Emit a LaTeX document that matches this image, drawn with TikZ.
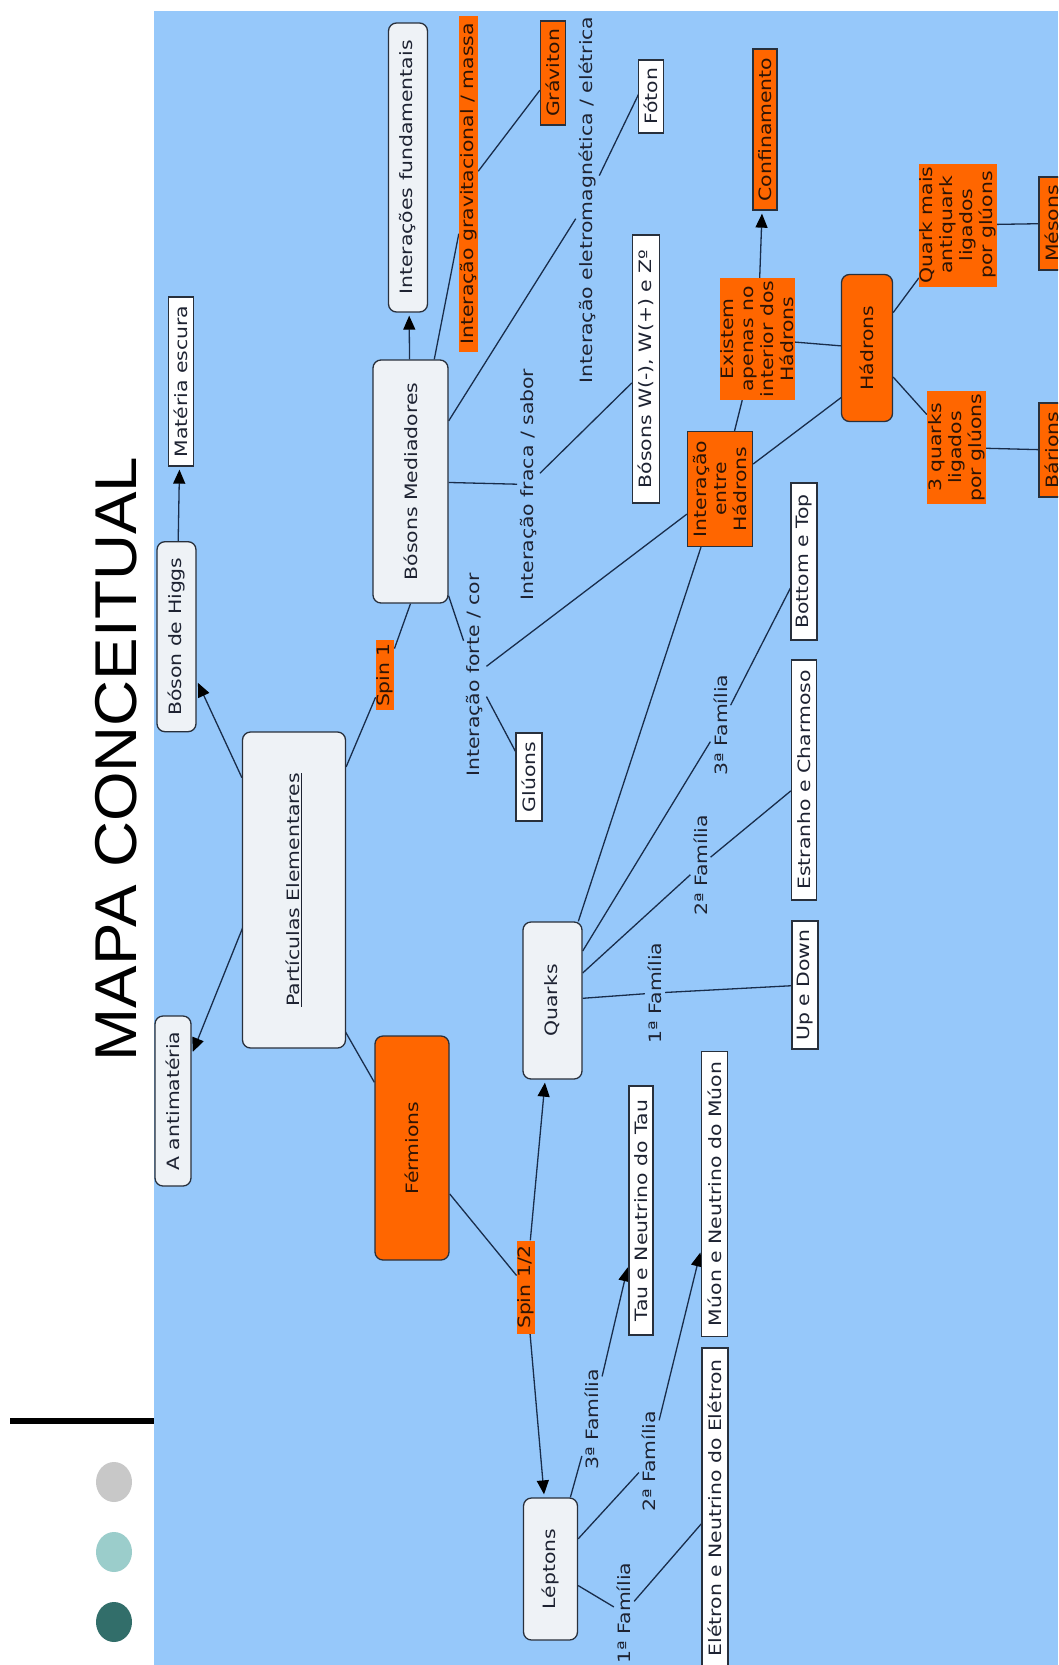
\documentclass[tikz,border=0pt]{standalone}
\usepackage{fontspec}
\newfontfamily\nf[FakeStretch=1.2]{DejaVu Sans}
\newfontfamily\tf[FakeStretch=1.08]{Liberation Sans}
\usetikzlibrary{arrows.meta,calc}
\definecolor{bgblue}{RGB}{150,200,250}
\definecolor{orng}{RGB}{255,102,0}
\definecolor{lightf}{RGB}{238,242,246}
\definecolor{bord}{RGB}{40,48,60}
\definecolor{lin}{RGB}{25,45,75}
\definecolor{txt}{RGB}{30,35,50}
\definecolor{otxt}{RGB}{45,20,5}
\definecolor{cgray}{RGB}{200,200,200}
\definecolor{cteal}{RGB}{155,205,203}
\definecolor{cdark}{RGB}{50,110,106}
\pgfdeclarelayer{backdrop}
\pgfdeclarelayer{lines}
\pgfsetlayers{backdrop,lines,main}
\tikzset{
  base/.style={rotate=90, font=\nf\fontsize{17}{20}\selectfont, text=txt, inner sep=0pt, align=center},
  sz/.style 2 args={minimum width=#1pt, minimum height=#2pt},
  rbox/.style={base, draw=bord, line width=1.3pt, rounded corners=8pt, fill=lightf},
  obox/.style={base, draw=bord, line width=1.3pt, rounded corners=8pt, fill=orng, text=otxt},
  wbox/.style={base, draw=bord, line width=1.3pt, fill=white},
  osq/.style={base, draw=bord, line width=1.3pt, fill=orng, text=otxt},
  onb/.style={base, fill=orng, text=otxt},
  olab/.style={base, fill=orng, text=otxt, inner sep=1pt},
  plab/.style={base, inner sep=3pt},
  conn/.style={draw=lin, line width=1.3pt},
  arr/.style={conn, -{Triangle[length=14pt,width=12pt,color=black]}, shorten >=3pt},
}
\begin{document}
\begin{tikzpicture}[x=1pt,y=-1pt]
\useasboundingbox (0,0) rectangle (1058,1665);
\clip (0,0) rectangle (1058,1665);
\begin{pgfonlayer}{backdrop}
\fill[white] (0,0) rectangle (1058,1665);
\fill[bgblue] (154,10.5) rectangle (1058,1665);
\draw[line width=6.5pt] (10,1421) -- (154,1421);
\fill[cgray] (114,1482) ellipse (18pt and 20pt);
\fill[cteal] (114,1552) ellipse (18pt and 20pt);
\fill[cdark] (114,1622) ellipse (18pt and 20pt);
\end{pgfonlayer}

\node[rotate=90, font=\tf\fontsize{59}{59}\selectfont, inner sep=0pt] (title) at (116,759) {MAPA CONCEITUAL};

% rounded light boxes
\node[rbox, sz={289}{39}] (interfund) at (408,167.5) {Interações fundamentais};
\node[rbox, sz={243}{75}] (bosmed) at (410.5,481.5) {Bósons Mediadores};
\node[rbox, sz={190}{39}] (higgs) at (176.5,636.7) {Bóson de Higgs};
\node[rbox, sz={316}{103}] (partic) at (294,890) {\underline{Partículas Elementares}};
\node[rbox, sz={170}{36}] (antimat) at (173,1101) {A antimatéria};
\node[rbox, sz={157}{59}] (quarks) at (552.5,1000.5) {Quarks};
\node[rbox, sz={142}{54}] (leptons) at (550.5,1569) {Léptons};

% orange rounded
\node[obox, sz={224}{74}] (fermions) at (412,1148) {Férmions};
\node[obox, sz={147}{51}] (hadrons) at (867,348) {Hádrons};

% white square boxes
\node[wbox, sz={169}{25}] (materia) at (181,381.5) {Matéria escura};
\node[wbox, sz={73}{25}] (foton) at (651,96.5) {Fóton};
\node[wbox, sz={268}{27}] (bosonsW) at (646,369) {Bósons W(-), W(+) e Zº};
\node[wbox, sz={88}{26}] (gluons) at (529,777) {Glúons};
\node[wbox, sz={157}{26}] (bottom) at (804,561.5) {Bottom e Top};
\node[wbox, sz={240}{25}] (estranho) at (804,780) {Estranho e Charmoso};
\node[wbox, sz={128}{26}] (updown) at (805,985) {Up e Down};
\node[wbox, sz={249}{24}] (tau) at (641,1210.5) {Tau e Neutrino do Tau};
\node[wbox, sz={285}{26}] (muon) at (714.7,1194) {Múon e Neutrino do Múon};
\node[wbox, sz={320}{26}] (eletron) at (715,1508) {Elétron e Neutrino do Elétron};

% orange square boxes
\node[osq, sz={104}{25}] (graviton) at (553,73) {Gráviton};
\node[osq, sz={161}{24}] (confin) at (765,129.5) {Confinamento};
\node[osq, sz={115}{65}] (interh) at (720,489) {Interação\\entre\\Hádrons};
\node[osq, sz={93}{26}] (mesons) at (1052,223.5) {Mésons};
\node[osq, sz={94}{26}] (barions) at (1052,450) {Bárions};

% orange without border
\node[onb, sz={122}{75}] (existem) at (757.5,339) {Existem\\apenas no\\interior dos\\Hádrons};
\node[onb, sz={123}{78}] (quarkmais) at (958,225) {Quark mais\\antiquark\\ligados\\por glúons};
\node[onb, sz={113}{59}] (tresq) at (956.5,447.5) {3 quarks\\ligados\\por glúons};

% highlighted linking phrases
\node[olab, sz={336}{19}] (gravlabel) at (468.5,184) {Interação gravitacional / massa};
\node[olab, sz={70}{18}] (spin1) at (385,675) {Spin 1};
\node[olab, sz={93}{18}] (spinhalf) at (526,1287) {Spin 1/2};

% plain linking phrases
\node[plab] (emlabel) at (587.5,200) {Interação eletromagnética / elétrica};
\node[plab] (fracalabel) at (528.5,484.5) {Interação fraca / sabor};
\node[plab] (fortelabel) at (475,675) {Interação forte / cor};
\node[plab] (qf1) at (655,993) {1ª Família};
\node[plab] (qf2) at (700.5,865.5) {2ª Família};
\node[plab] (qf3) at (720.5,725) {3ª Família};
\node[plab] (lf1) at (624,1613) {1ª Família};
\node[plab] (lf2) at (649,1461.5) {2ª Família};
\node[plab] (lf3) at (592,1419.5) {3ª Família};

\begin{pgfonlayer}{lines}
\draw[arr] (bosmed) -- (interfund);
\draw[arr] (higgs) -- (materia);
\draw[arr] (partic) -- (higgs);
\draw[arr] ($(partic.center)+(0,-90)$) -- (antimat);
\draw[conn] (bosmed) -- (gravlabel);
\draw[conn] (gravlabel) -- (graviton);
\draw[conn] (bosmed) -- (emlabel);
\draw[conn] (emlabel) -- ($(foton.center)+(0,-28)$);
\draw[conn] (bosmed) -- (fracalabel);
\draw[conn] (fracalabel) -- (bosonsW);
\draw[conn] (bosmed) -- (fortelabel);
\draw[conn] (fortelabel) -- (interh);
\draw[conn] (fortelabel) -- (gluons);
\draw[conn] (partic) -- (spin1);
\draw[conn] (spin1) -- (bosmed.west);
\draw[conn] ($(partic.center)+(0,52)$) -- (fermions);
\draw[conn] (fermions) -- (spinhalf);
\draw[arr] (spinhalf) -- (quarks);
\draw[arr] (spinhalf) -- (leptons);
\draw[conn] (quarks) -- (interh);
\draw[conn] (quarks) -- (qf1);
\draw[conn] (qf1) -- (updown);
\draw[conn] (quarks) -- (qf2);
\draw[conn] (qf2) -- (estranho);
\draw[conn] (quarks) -- (qf3);
\draw[conn] (qf3) -- (bottom);
\draw[conn] (interh) -- (existem);
\draw[arr] (existem) -- (confin);
\draw[conn] (interh) -- ($(hadrons.center)+(0,30)$);
\draw[conn] (existem) -- (hadrons);
\draw[conn] (hadrons) -- (quarkmais);
\draw[conn] (quarkmais) -- (mesons);
\draw[conn] (hadrons) -- (tresq);
\draw[conn] (tresq) -- (barions);
\draw[conn] (leptons) -- (lf1);
\draw[conn] (lf1) -- (eletron);
\draw[conn] (leptons) -- (lf2);
\draw[arr] (lf2) -- (muon);
\draw[conn] (leptons) -- (lf3);
\draw[arr] (lf3) -- (tau);
\end{pgfonlayer}
\end{tikzpicture}
\end{document}
